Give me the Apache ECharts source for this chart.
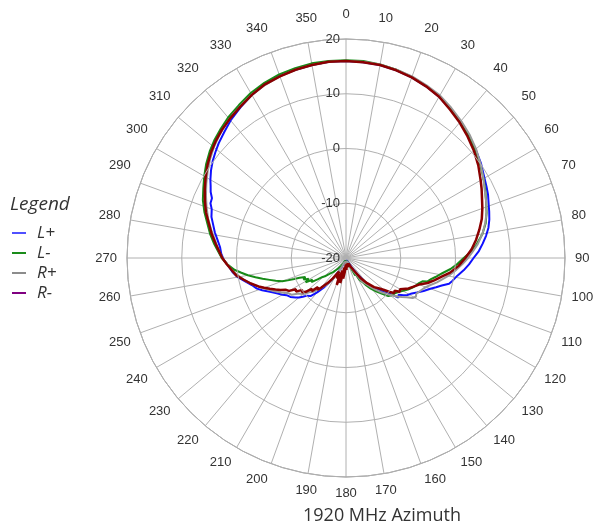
<!DOCTYPE html>
<html><head><meta charset="utf-8">
<script src="https://cdn.jsdelivr.net/npm/echarts@6/dist/echarts.min.js"></script>
<style>html,body{margin:0;padding:0;background:#fff}#c{width:595px;height:531px}</style>
</head><body><div id="c"></div>
<script>
// [angle (deg), level (dB)]
const seriesNames = ['L+', 'L-', 'R+', 'R-'];
const radiusTicks = [-20, -10, 0, 10, 20];
const titleText = '1920 MHz Azimuth';

const lPlus = [[0,16.0],[5,15.9],[10,15.8],[15,15.5],[20,15.1],[25,14.6],[30,14.0],[35,13.2],[40,12.5],[45,11.7],[50,10.9],[55,10.1],[60,9.2],[63,8.8],[66,8.4],[69,7.9],[72,7.5],[75,7.1],[78,6.6],[81,5.9],[84,5.1],[87,4.3],[90,3.3],[93,2.5],[96,1.6],[99,0.6],[102,-0.1],[104,-0.6],[106,-1.8],[108,-2.7],[110,-3.6],[113,-4.6],[116,-5.6],[119,-6.5],[121,-6.9],[123,-7.5],[125,-8.3],[127,-8.0],[129,-9.6],[131,-10.3],[133,-11.2],[136,-12.3],[139,-13.4],[142,-14.6],[145,-16.4],[149,-18.0],[153,-19.0],[158,-19.5],[165,-19.7],[175,-19.8],[185,-19.8],[195,-19.6],[200,-19.3],[205,-18.4],[209,-17.2],[212,-15.8],[215,-14.3],[217,-13.2],[220,-11.8],[223,-10.5],[226,-10.1],[228,-9.4],[230,-8.8],[232,-8.3],[235,-7.6],[238,-7.2],[240,-6.6],[243,-5.8],[246,-4.8],[249,-3.6],[251,-2.8],[254,-2.1],[257,-1.1],[260,0.1],[263,0.9],[266,1.5],[269,2.3],[272,2.8],[275,3.1],[278,3.7],[281,4.4],[284,5.0],[287,5.7],[290,6.1],[292,6.7],[294,6.8],[296,7.5],[298,8.0],[300,8.6],[303,9.4],[306,10.1],[309,10.7],[312,11.3],[316,12.0],[320,12.8],[325,13.6],[330,14.4],[335,15.0],[340,15.4],[345,15.6],[350,15.8],[355,16.0],[360,16.0]];

const lMinus = [[0,16.1],[5,16.1],[10,15.9],[15,15.6],[20,15.2],[25,14.7],[30,14.1],[35,13.3],[40,12.5],[45,11.7],[50,10.8],[55,9.9],[60,9.0],[64,8.3],[68,7.6],[72,7.0],[76,6.3],[80,5.3],[84,4.0],[87,2.9],[90,1.5],[93,0.4],[96,-0.8],[99,-2.2],[102,-3.3],[104,-4.0],[106,-4.5],[107,-5.4],[109,-5.9],[111,-6.2],[114,-6.7],[117,-7.3],[120,-8.0],[123,-8.6],[126,-9.0],[129,-9.2],[132,-9.6],[135,-10.8],[138,-11.8],[141,-12.8],[144,-14.0],[146,-14.8],[148,-15.3],[150,-16.8],[152,-16.4],[155,-18.3],[160,-19.3],[170,-19.7],[180,-19.8],[190,-19.7],[200,-19.4],[207,-18.9],[212,-18.3],[217,-17.6],[222,-16.6],[226,-15.8],[229,-14.9],[231,-14.5],[233,-13.5],[235,-12.3],[237,-12.7],[239,-11.4],[241,-12.2],[243,-11.3],[245,-11.8],[247,-10.8],[248,-9.8],[249,-8.6],[250,-7.6],[252,-6.5],[254,-5.5],[256,-4.3],[258,-3.1],[260,-1.8],[262,-0.7],[264,0.5],[267,1.7],[270,2.7],[273,3.4],[276,4.2],[280,5.2],[284,6.1],[288,7.2],[292,8.2],[296,9.0],[300,9.9],[304,10.8],[308,11.6],[312,12.3],[316,12.9],[320,13.5],[325,14.1],[330,14.8],[335,15.3],[340,15.7],[345,15.9],[350,16.1],[355,16.1],[360,16.1]];

const rPlus = [[0,16.0],[5,16.0],[10,15.9],[15,15.6],[20,15.3],[25,14.8],[30,14.3],[35,13.5],[40,12.7],[45,11.9],[50,11.0],[55,10.0],[60,9.0],[64,8.2],[68,7.6],[72,7.0],[76,6.2],[80,5.3],[84,4.2],[87,3.2],[90,2.3],[93,1.3],[96,0.3],[99,-0.7],[102,-1.8],[105,-2.8],[108,-3.9],[111,-4.7],[114,-5.2],[117,-5.6],[119,-5.4],[121,-5.8],[123,-6.8],[125,-7.6],[127,-8.3],[129,-9.2],[131,-9.9],[134,-11.0],[137,-12.1],[140,-13.2],[143,-14.2],[146,-15.0],[148,-15.4],[150,-17.0],[154,-18.5],[160,-19.3],[170,-19.7],[180,-19.7],[190,-19.6],[200,-19.2],[205,-18.3],[209,-16.9],[212,-15.5],[215,-14.2],[218,-13.4],[221,-12.4],[224,-11.4],[227,-10.8],[230,-9.7],[233,-9.2],[236,-8.0],[239,-7.6],[242,-6.6],[245,-5.6],[248,-4.6],[251,-3.5],[254,-2.4],[257,-1.3],[260,-0.3],[263,0.7],[266,1.5],[269,2.3],[272,3.0],[275,3.6],[278,4.2],[282,5.2],[286,6.2],[290,7.1],[294,8.0],[298,8.9],[302,9.8],[306,10.7],[310,11.5],[314,12.2],[318,12.8],[322,13.4],[326,13.9],[330,14.4],[335,14.9],[340,15.3],[345,15.6],[350,15.8],[355,16.0],[360,16.0]];

const rMinus = [[0,16.0],[5,15.9],[10,15.8],[15,15.5],[20,15.1],[25,14.6],[30,14.0],[35,13.1],[40,12.3],[45,11.4],[50,10.5],[55,9.5],[60,8.4],[63,7.8],[67,7.0],[70,6.5],[74,5.8],[78,4.9],[82,4.0],[86,3.0],[90,1.8],[94,0.6],[98,-0.8],[101,-2.2],[104,-3.3],[107,-4.4],[110,-5.8],[113,-6.6],[116,-7.3],[118,-7.4],[120,-8.6],[122,-8.4],[124,-9.3],[126,-9.1],[128,-9.9],[130,-10.9],[133,-11.9],[136,-12.6],[140,-14.0],[144,-15.5],[148,-17.3],[152,-18.3],[156,-18.9],[160,-19.3],[164,-18.7],[167,-19.2],[170,-18.3],[174,-19.0],[178,-17.8],[182,-18.8],[185,-17.4],[188,-16.2],[190,-18.2],[193,-15.3],[196,-17.6],[199,-14.8],[201,-16.8],[204,-15.9],[207,-17.2],[210,-16.6],[213,-15.5],[216,-14.4],[218,-14.2],[220,-12.9],[222,-12.2],[224,-12.6],[226,-11.3],[228,-11.6],[230,-10.4],[232,-9.8],[234,-10.1],[236,-9.0],[238,-9.2],[240,-8.0],[242,-7.6],[244,-6.7],[246,-5.9],[248,-5.0],[250,-4.1],[252,-3.2],[255,-2.0],[258,-0.9],[261,0.3],[264,1.0],[267,1.8],[270,2.6],[273,3.2],[276,3.9],[280,4.9],[284,5.8],[288,6.9],[292,7.8],[296,8.7],[300,9.6],[304,10.5],[308,11.3],[312,12.0],[316,12.6],[320,13.1],[325,13.7],[330,14.4],[335,15.0],[340,15.3],[345,15.6],[350,15.8],[355,16.0],[360,16.0]];

const seriesData = [lPlus, lMinus, rPlus, rMinus];
const lineColors = ['#1010ff', '#178a17', '#999999', '#8b0000'];
const legendColors = ['#5050ff', '#1a8c1a', '#8c8c8c', '#800080'];
const lineWidths = [2, 2, 2, 2.5];

const labelFont = 'Liberation Sans, Arial, sans-serif';
function angleLabel(v) {
  if (v === 360) return '';
  const c = Math.cos(v * Math.PI / 180);
  if (c > 0.29) return '{t|' + v + '}';
  if (c < -0.29) return '{b|' + v + '}';
  if (c > 0.1) return '{s|' + v + '}';
  return '{b|' + v + '}';
}

const chart = echarts.init(document.getElementById('c'), null, {renderer: 'canvas'});
const option = {
  backgroundColor: '#fff',
  animation: false,
  polar: { center: [346, 258], radius: 219 },
  angleAxis: {
    type: 'value', min: 0, max: 360, interval: 10, startAngle: 90, clockwise: true,
    axisLine: { show: true, lineStyle: { color: '#999', width: 1 } },
    axisTick: { show: false },
    splitLine: { show: true, lineStyle: { color: '#b0b0b0', width: 1 } },
    axisLabel: { margin: 10, color: '#333', fontSize: 13, fontFamily: labelFont,
      formatter: angleLabel,
      rich: {
        t: { fontSize: 13, color: '#333', fontFamily: labelFont, padding: [0, 0, 8, 0] },
        s: { fontSize: 13, color: '#333', fontFamily: labelFont, padding: [0, 0, 5, 0] },
        b: { fontSize: 13, color: '#333', fontFamily: labelFont, padding: [0, 0, 0, 0] }
      } }
  },
  radiusAxis: {
    type: 'value', min: radiusTicks[0], max: radiusTicks[radiusTicks.length - 1], interval: 10,
    axisLine: { show: false }, axisTick: { show: false },
    splitLine: { show: true, lineStyle: { color: '#b0b0b0', width: 1 } },
    axisLabel: { margin: 6, color: '#333', fontSize: 13, fontFamily: labelFont },
    z: 10
  },
  legend: {
    orient: 'vertical', left: 7, top: 218, itemGap: 0, itemWidth: 14, itemHeight: 2, icon: 'rect',
    textStyle: { fontSize: 17, fontStyle: 'italic', color: '#333', fontFamily: 'Open Sans, sans-serif', lineHeight: 20, padding: [0,0,0,6] },
    data: seriesNames.map((n, i) => ({ name: n, itemStyle: { color: legendColors[i] }, lineStyle: { color: legendColors[i] } }))
  },
  graphic: [
    { type: 'text', left: 10, top: 195, style: { text: 'Legend', font: 'italic 19px "Open Sans", sans-serif', fill: '#333' } },
    { type: 'text', x: 382, y: 516, style: { text: titleText, font: '18px "Open Sans", sans-serif', fill: '#333', align: 'center', verticalAlign: 'middle' } }
  ],
  series: seriesData.map((d, i) => ({
    name: seriesNames[i], type: 'line', coordinateSystem: 'polar', showSymbol: false, symbol: 'none',
    data: d.map(p => [p[1], p[0]]),
    lineStyle: { color: lineColors[i], width: lineWidths[i] },
    itemStyle: { color: lineColors[i] },
    z: 3 + i
  }))
};
chart.setOption(option);
</script></body></html>
